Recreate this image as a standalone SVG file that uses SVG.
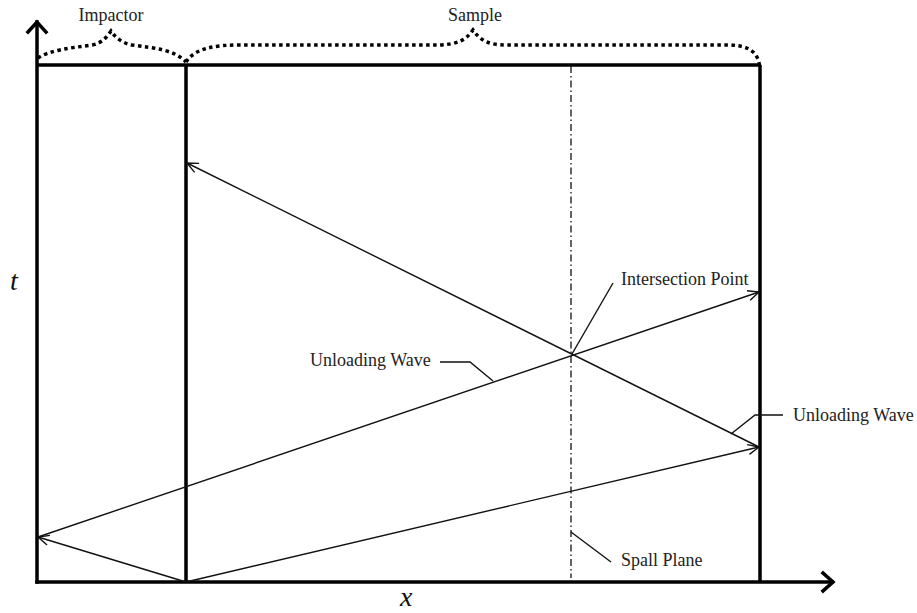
<svg xmlns="http://www.w3.org/2000/svg" width="917" height="613" viewBox="0 0 917 613">
<style>
.axis{stroke:#000;stroke-width:3.5;fill:none;stroke-linecap:square}
.wall{stroke:#000;stroke-width:3.5;fill:none}
.ray{stroke:#111;stroke-width:1.4;fill:none}
.lead{stroke:#111;stroke-width:1.4;fill:none}
.brace{stroke:#000;stroke-width:3.5;fill:none;stroke-dasharray:3.5 3.5;stroke-linecap:butt}
.spall{stroke:#111;stroke-width:1.3;fill:none;stroke-dasharray:7 3 1.5 3}
.lbl{font-family:"Liberation Serif","DejaVu Serif",serif;font-size:18px;fill:#222}
.var{font-family:"Liberation Serif","DejaVu Serif",serif;font-style:italic;font-size:28px;fill:#111}
</style>
<defs>
<marker id="open" markerWidth="14" markerHeight="14" refX="12" refY="6" orient="auto" markerUnits="userSpaceOnUse" viewBox="0 0 14 12">
<path d="M1,1 L12,6 L1,11" fill="none" stroke="#111" stroke-width="1.4"/>
</marker>
</defs>
<g id="axes">
<path class="axis" d="M37,582 L37,22"/>
<path class="axis" d="M28,32 L37,22 L46,32" stroke-linejoin="miter"/>
<path class="axis" d="M37,582 L832,582"/>
<path class="axis" d="M823,573 L833,582 L823,591"/>
<text class="var" x="10" y="290">t</text>
<text class="var" x="400" y="606">x</text>
</g>
<g id="impactor">
<path class="wall" d="M37,65 L186,65"/>
<path class="brace" d="M38,58 C50,50 70,48 92,45 C102,43 106,38 111,31 C116,38 122,43 132,45 C155,48 175,50 186,62"/>
<text class="lbl" x="111" y="21" text-anchor="middle">Impactor</text>
</g>
<g id="sample">
<path class="wall" d="M186,65 L760,65 M186,65 L186,582 M760,65 L760,582"/>
<path class="brace" d="M186,62 C195,48 215,45 240,45 L440,45 C458,44 466,40 473,30 C480,40 488,45 506,45 L730,45 C750,46 758,52 760,68"/>
<text class="lbl" x="475" y="21" text-anchor="middle">Sample</text>
</g>
<g id="spall-plane">
<path class="spall" d="M571,66 L571,578"/>
<text class="lbl" x="621" y="566">Spall Plane</text>
</g>
<g id="intersection-point">
<text class="lbl" x="621" y="285">Intersection Point</text>
</g>
<g id="unloading-wave-1">
<text class="lbl" x="310" y="366">Unloading Wave</text>
</g>
<g id="unloading-wave-2">
<text class="lbl" x="793" y="421">Unloading Wave</text>
</g>
<g id="connectors">
<path class="ray" d="M186,582 L38,537" marker-end="url(#open)"/>
<path class="ray" d="M38,537 L759,292" marker-end="url(#open)"/>
<path class="ray" d="M186,582 L759,447" marker-end="url(#open)"/>
<path class="ray" d="M759,447 L187,163" marker-end="url(#open)"/>
<path class="lead" d="M572,354 L613,283"/>
<path class="lead" d="M440,362 L470,362 L493,381"/>
<path class="lead" d="M783,415 L755,415 L731,434"/>
<path class="lead" d="M571,532 L611,562"/>
</g>
</svg>
